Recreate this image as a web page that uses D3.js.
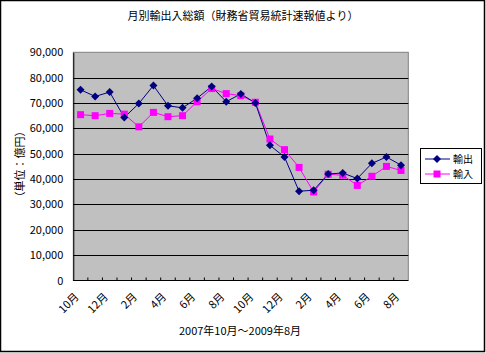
<!DOCTYPE html>
<html>
<head>
<meta charset="utf-8">
<script src="https://cdn.jsdelivr.net/npm/d3@7"></script>
<style>
  body { margin: 0; background: #fff; }
  svg text { font-family: "Noto Sans CJK JP", sans-serif; font-size: 11px; fill: #000; }
</style>
</head>
<body>
<div id="chart"></div>
<script>
// 2007年10月〜2009年8月 (億円)
const months = ["10月","11月","12月","1月","2月","3月","4月","5月","6月","7月","8月","9月",
                "10月","11月","12月","1月","2月","3月","4月","5月","6月","7月","8月"];
const exports = [75200, 72600, 74300, 64300, 69800, 76900, 68900, 68100, 71900, 76500, 70500, 73600,
                 70000, 53300, 48700, 35200, 35600, 42000, 42400, 40200, 46200, 48700, 45500];
const imports = [65400, 65000, 65900, 65600, 60600, 66300, 64600, 65000, 70500, 75700, 73700, 72900,
                 70300, 55800, 51600, 44600, 34900, 41900, 41500, 37500, 41100, 45000, 43400];
const yTicks = [0, 10000, 20000, 30000, 40000, 50000, 60000, 70000, 80000, 90000];

const W = 486, H = 353;
const plot = { left: 73.3, right: 408.3, top: 52.3, bottom: 280.5 };

const svg = d3.select("#chart").append("svg")
  .attr("width", W).attr("height", H);

// outer frame
svg.append("rect").attr("x", 0.5).attr("y", 0.5).attr("width", W - 2).attr("height", H - 2)
  .attr("fill", "#fff").attr("stroke", "#000").attr("stroke-width", 1.5);

const x = d3.scaleBand().domain(d3.range(months.length)).range([plot.left, plot.right]);
const y = d3.scaleLinear().domain([0, 90000]).range([plot.bottom, plot.top]);
const cx = i => x(i) + x.bandwidth() / 2;

// plot area
svg.append("rect")
  .attr("x", plot.left).attr("y", plot.top)
  .attr("width", plot.right - plot.left).attr("height", plot.bottom - plot.top)
  .attr("fill", "#c0c0c0").attr("stroke", "#808080");

// gridlines
svg.append("g").selectAll("line")
  .data(yTicks.filter(d => d > 0 && d < 90000))
  .enter().append("line")
  .attr("x1", plot.left).attr("x2", plot.right)
  .attr("y1", d => Math.round(y(d)) + 0.5).attr("y2", d => Math.round(y(d)) + 0.5)
  .attr("stroke", "#000");

// y axis
const yAxis = svg.append("g")
  .attr("transform", `translate(${plot.left},0)`)
  .call(d3.axisLeft(y).tickValues(yTicks).tickSize(0).tickPadding(10)
    .tickFormat(d3.format(",")));
yAxis.select(".domain").attr("stroke", "#000");
yAxis.selectAll("text").style("font-family", "'Noto Sans CJK JP', sans-serif").style("font-size", "11px");

// x axis line with inner ticks at category boundaries
svg.append("line")
  .attr("x1", plot.left).attr("x2", plot.right)
  .attr("y1", plot.bottom).attr("y2", plot.bottom)
  .attr("stroke", "#000");
svg.append("g").selectAll("line")
  .data(d3.range(1, months.length))
  .enter().append("line")
  .attr("x1", d => x(d)).attr("x2", d => x(d))
  .attr("y1", plot.bottom).attr("y2", plot.bottom - 3)
  .attr("stroke", "#000");

// x labels (every other month)
svg.append("g").selectAll("text")
  .data(d3.range(0, months.length, 2))
  .enter().append("text")
  .attr("transform", d => `translate(${cx(d) - 1},${plot.bottom + 17}) rotate(-45)`)
  .attr("text-anchor", "end")
  .text(d => months[d]);

// lines
const line = d3.line()
  .x((d, i) => cx(i))
  .y(d => y(d));

svg.append("path").datum(imports)
  .attr("d", line).attr("fill", "none").attr("stroke", "#ff00ff").attr("stroke-width", 1);
svg.append("path").datum(exports)
  .attr("d", line).attr("fill", "none").attr("stroke", "#000080").attr("stroke-width", 1);

svg.append("g").selectAll("rect")
  .data(imports)
  .enter().append("rect")
  .attr("x", (d, i) => cx(i) - 3.5)
  .attr("y", d => y(d) - 3.5)
  .attr("width", 7).attr("height", 7)
  .attr("fill", "#ff00ff");

const diamond = "M0,-4L4,0L0,4L-4,0Z";
svg.append("g").selectAll("path")
  .data(exports)
  .enter().append("path")
  .attr("d", diamond)
  .attr("transform", (d, i) => `translate(${cx(i)},${y(d)})`)
  .attr("fill", "#000080");

// titles
svg.append("text").attr("x", 243).attr("y", 20).attr("text-anchor", "middle")
  .text("月別輸出入総額（財務省貿易統計速報値より）");
svg.append("text").attr("x", 240).attr("y", 335).attr("text-anchor", "middle")
  .text("2007年10月～2009年8月");
svg.append("text").attr("transform", "translate(24,164) rotate(-90)")
  .attr("text-anchor", "middle")
  .text("（単位：億円）");

// legend
const lg = svg.append("g").attr("transform", "translate(420,148)");
lg.append("rect").attr("x", 0.5).attr("y", 0.5).attr("width", 61).attr("height", 35)
  .attr("fill", "#fff").attr("stroke", "#000");
const items = [
  { name: "輸出", color: "#000080", type: "diamond" },
  { name: "輸入", color: "#ff00ff", type: "square" }
];
items.forEach((it, i) => {
  const ly = 11 + i * 15;
  lg.append("line").attr("x1", 5).attr("x2", 30).attr("y1", ly).attr("y2", ly)
    .attr("stroke", it.color);
  if (it.type === "diamond") {
    lg.append("path").attr("d", diamond).attr("transform", `translate(17,${ly})`).attr("fill", it.color);
  } else {
    lg.append("rect").attr("x", 13.5).attr("y", ly - 3.5).attr("width", 7).attr("height", 7).attr("fill", it.color);
  }
  lg.append("text").attr("x", 33).attr("y", ly + 4).style("font-size", "10px").text(it.name);
});
</script>
</body>
</html>
